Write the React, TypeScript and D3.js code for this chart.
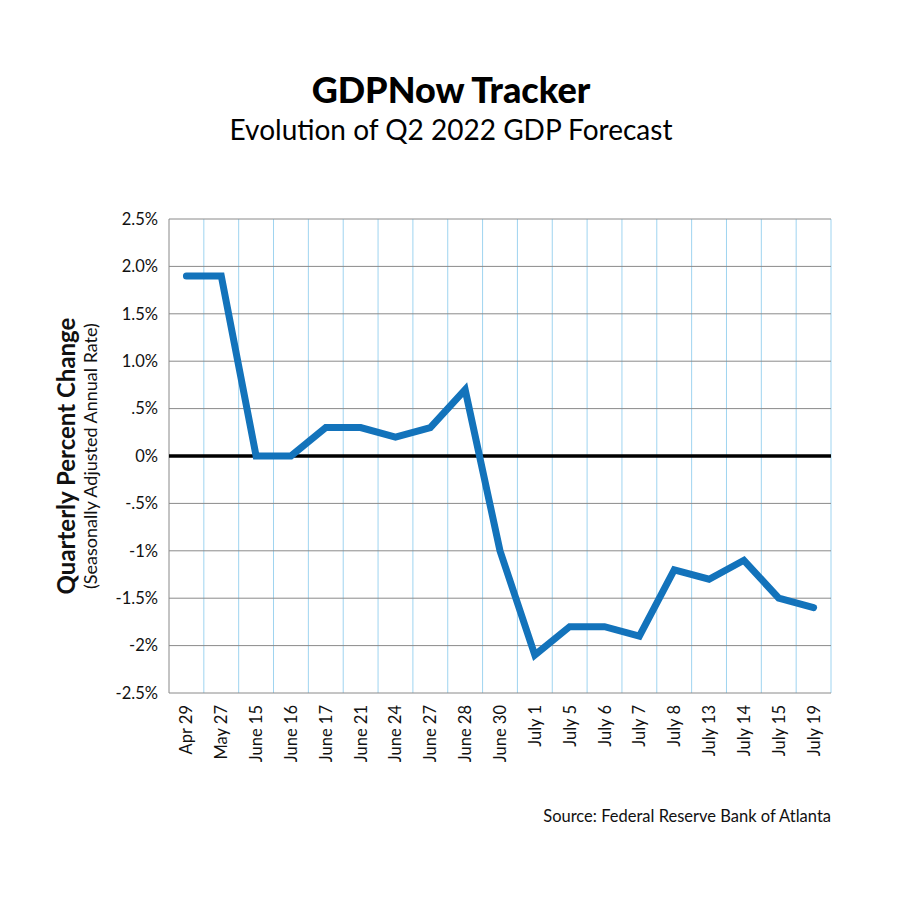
import React from "react";
import * as d3 from "d3";

const categories = ["Apr 29","May 27","June 15","June 16","June 17","June 21","June 24","June 27","June 28","June 30","July 1","July 5","July 6","July 7","July 8","July 13","July 14","July 15","July 19"];
const values = [1.9,1.9,0,0,0.3,0.3,0.2,0.3,0.7,-1.0,-2.1,-1.8,-1.8,-1.9,-1.2,-1.3,-1.1,-1.5,-1.6];
const yTicks = [2.5,2,1.5,1,0.5,0,-0.5,-1,-1.5,-2,-2.5];
const yTickLabels = ["2.5%","2.0%","1.5%","1.0%",".5%","0%","-.5%","-1%","-1.5%","-2%","-2.5%"];

const W = 900, H = 900;
const left = 169, right = 831, top = 219, bottom = 693;
const FONT = "Lato, 'Open Sans', sans-serif";

export default function App() {
  const x = d3.scaleBand<string>().domain(categories).range([left, right]);
  const y = d3.scaleLinear().domain([-2.5, 2.5]).range([bottom, top]);
  const line = d3.line<number>()
    .x((_, i) => (x(categories[i]) as number) + x.bandwidth() / 2)
    .y((d) => y(d));
  const vlines = categories.map((c) => x(c) as number).concat([right]);
  return (
    <svg width={W} height={H} style={{ position: "absolute", left: 0, top: 0, background: "#fff" }} fontFamily={FONT}>
      <rect x={0} y={0} width={W} height={H} fill="#fff" />
      <text x={451} y={103} textAnchor="middle" fontSize={36} fontWeight={900} fill="#000">GDPNow Tracker</text>
      <text x={451} y={140} textAnchor="middle" fontSize={28} fill="#000">Evolution of Q2 2022 GDP Forecast</text>
      {vlines.map((vx, i) => (
        <line key={"v" + i} x1={vx} x2={vx} y1={top} y2={bottom} stroke={i === 0 ? "#888" : "#9fd4f0"} strokeWidth={1} />
      ))}
      {yTicks.map((t, i) => (
        <line key={"h" + i} x1={left} x2={right} y1={y(t)} y2={y(t)} stroke={t === 0 ? "#000" : "#8a8a8a"} strokeWidth={t === 0 ? 3.5 : 1} />
      ))}
      {yTicks.map((t, i) => (
        <text key={"yl" + i} x={158} y={y(t)} dy="0.35em" textAnchor="end" fontSize={16.5} fill="#111">{yTickLabels[i]}</text>
      ))}
      {categories.map((c, i) => {
        const cx = (x(c) as number) + x.bandwidth() / 2;
        return (
          <text key={"xl" + i} transform={`translate(${cx + 6},${705}) rotate(-90)`} textAnchor="end" fontSize={16.5} fill="#111">{c}</text>
        );
      })}
      <path d={line(values) as string} fill="none" stroke="#1373bb" strokeWidth={7} strokeLinejoin="miter" strokeLinecap="round" />
      <text transform={`translate(75,${456}) rotate(-90)`} textAnchor="middle" fontSize={24} fontWeight={700} fill="#111">Quarterly Percent Change</text>
      <text transform={`translate(97,${456}) rotate(-90)`} textAnchor="middle" fontSize={18} fill="#111">(Seasonally Adjusted Annual Rate)</text>
      <text x={831} y={822} textAnchor="end" fontSize={16.5} fill="#111">Source: Federal Reserve Bank of Atlanta</text>
    </svg>
  );
}
